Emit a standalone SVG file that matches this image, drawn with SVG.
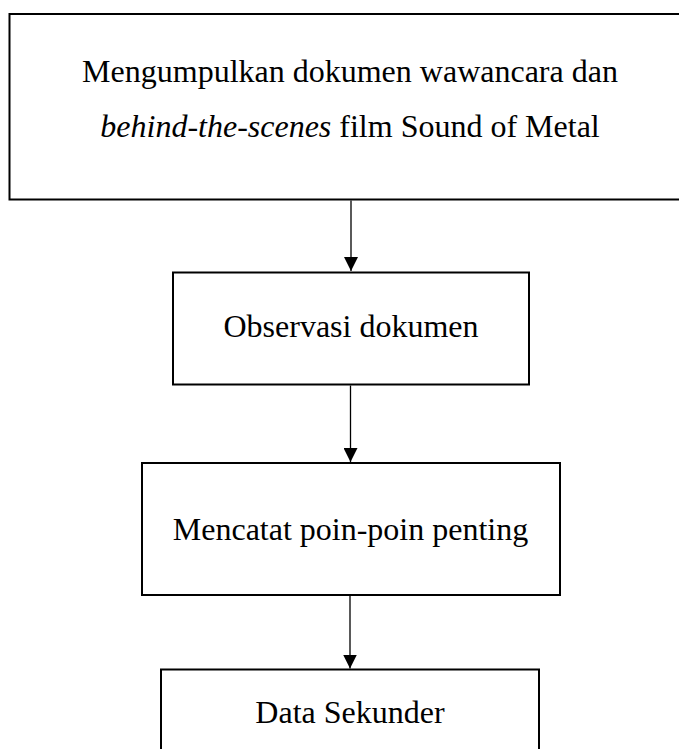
<svg xmlns="http://www.w3.org/2000/svg" width="679" height="749" viewBox="0 0 679 749">
<style>
.box{fill:#fff;stroke:#000;stroke-width:2}
.t{font-family:"Liberation Serif","Times New Roman",serif;font-size:32px;fill:#000;text-anchor:middle}
.c{stroke:#000;stroke-width:1.3;fill:none}
</style>
<defs>
<marker id="ah" markerUnits="userSpaceOnUse" markerWidth="14" markerHeight="14" refX="14" refY="7" orient="auto" viewBox="0 0 14 14">
<path d="M0,0 L14,7 L0,14 Z" fill="#000"/>
</marker>
</defs>
<rect width="679" height="749" fill="#fff"/>
<g id="n1">
<rect class="box" x="9.5" y="14" width="682" height="185.5"/>
<text class="t" x="350" y="82">Mengumpulkan dokumen wawancara dan</text>
<text class="t" x="350" y="136.5"><tspan font-style="italic">behind-the-scenes</tspan> film Sound of Metal</text>
</g>
<g id="n2">
<rect class="box" x="173" y="272.5" width="356" height="112"/>
<text class="t" x="351" y="337">Observasi dokumen</text>
</g>
<g id="n3">
<rect class="box" x="142" y="463" width="418" height="132"/>
<text class="t" x="350.5" y="540">Mencatat poin-poin penting</text>
</g>
<g id="n4">
<rect class="box" x="161" y="669.5" width="378" height="100"/>
<text class="t" x="350" y="723">Data Sekunder</text>
</g>
<g id="connectors">
<path class="c" d="M351,200.5 V271" marker-end="url(#ah)"/>
<path class="c" d="M350.5,385.5 V462" marker-end="url(#ah)"/>
<path class="c" d="M350,595.5 V668.5" marker-end="url(#ah)"/>
</g>
</svg>
